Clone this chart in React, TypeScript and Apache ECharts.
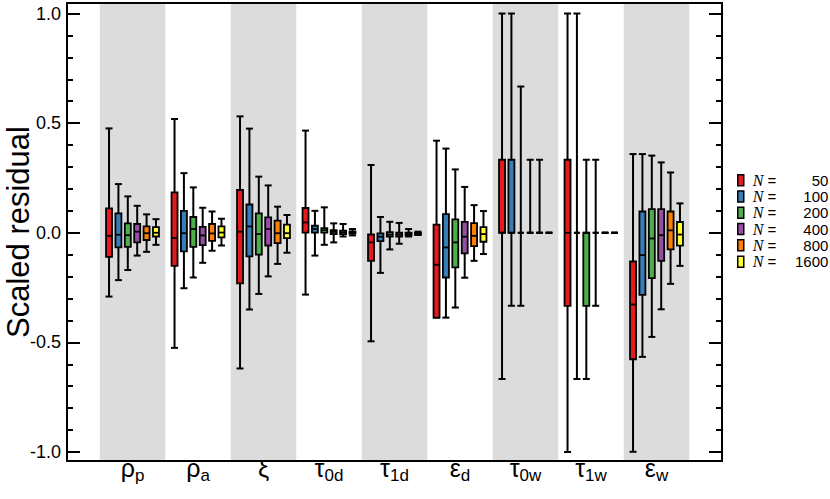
import React, { useEffect, useRef } from "react";
import * as echarts from "echarts";

// Category labels (main glyph + subscript)
const catMain = ["ρ", "ρ", "ξ", "τ", "τ", "ε", "τ", "τ", "ε"];
const catSub = ["p", "a", "", "0d", "1d", "d", "0w", "1w", "w"];

const sampleSizes = [50, 100, 200, 400, 800, 1600];
const colors = ["#E41A1C", "#377EB8", "#4DAF4A", "#984EA3", "#FF7F00", "#FFFF33"];

// Each entry: [low whisker, Q1, median, Q3, high whisker], one per category
const n50 = [
  [-0.291, -0.110, -0.014, 0.111, 0.476],
  [-0.525, -0.151, -0.024, 0.184, 0.519],
  [-0.619, -0.231, 0.005, 0.195, 0.531],
  [-0.282, 0.001, 0.047, 0.113, 0.466],
  [-0.495, -0.128, -0.044, -0.008, 0.309],
  [-0.387, -0.387, -0.146, 0.037, 0.420],
  [-0.667, 0, 0, 0.333, 1.0],
  [-1.0, -0.333, 0, 0.333, 1.0],
  [-0.999, -0.577, -0.327, -0.131, 0.359],
];
const n100 = [
  [-0.216, -0.067, -0.009, 0.088, 0.222],
  [-0.253, -0.085, -0.002, 0.100, 0.272],
  [-0.350, -0.108, 0.029, 0.129, 0.475],
  [-0.104, 0.001, 0.017, 0.032, 0.100],
  [-0.183, -0.038, -0.018, -0.003, 0.072],
  [-0.387, -0.204, -0.067, 0.085, 0.384],
  [-0.333, 0, 0, 0.333, 1.0],
  [-0.667, 0, 0, 0, 1.0],
  [-0.566, -0.283, -0.102, 0.097, 0.359],
];
const n200 = [
  [-0.170, -0.064, -0.011, 0.043, 0.166],
  [-0.204, -0.064, 0.017, 0.072, 0.207],
  [-0.279, -0.100, -0.006, 0.088, 0.256],
  [-0.055, 0.001, 0.012, 0.021, 0.116],
  [-0.076, -0.017, -0.008, 0.003, 0.050],
  [-0.341, -0.158, -0.044, 0.061, 0.289],
  [-0.333, 0, 0, 0, 0.667],
  [-0.667, -0.333, 0, 0, 0.333],
  [-0.475, -0.207, -0.026, 0.108, 0.352],
];
const n400 = [
  [-0.104, -0.044, 0.005, 0.040, 0.123],
  [-0.137, -0.056, -0.012, 0.027, 0.114],
  [-0.199, -0.058, 0.017, 0.070, 0.216],
  [-0.044, -0.006, 0.004, 0.012, 0.043],
  [-0.050, -0.017, -0.008, 0.001, 0.045],
  [-0.205, -0.094, -0.018, 0.050, 0.209],
  [0, 0, 0, 0, 0.333],
  [-0.333, 0, 0, 0, 0.333],
  [-0.349, -0.128, -0.011, 0.108, 0.321],
];
const n800 = [
  [-0.087, -0.033, -0.002, 0.029, 0.084],
  [-0.082, -0.037, -0.003, 0.040, 0.097],
  [-0.142, -0.047, -0.002, 0.055, 0.119],
  [-0.017, -0.006, 0.002, 0.010, 0.040],
  [-0.017, -0.012, -0.006, 0.001, 0.017],
  [-0.128, -0.061, -0.014, 0.044, 0.126],
  [0, 0, 0, 0, 0.333],
  [0, 0, 0, 0, 0],
  [-0.233, -0.076, 0.011, 0.097, 0.275],
];
const n1600 = [
  [-0.055, -0.017, 0.000, 0.026, 0.062],
  [-0.058, -0.021, 0.001, 0.029, 0.064],
  [-0.091, -0.024, -0.002, 0.037, 0.081],
  [-0.012, -0.004, 0.001, 0.006, 0.017],
  [-0.010, -0.008, -0.004, 0.000, 0.005],
  [-0.097, -0.041, -0.006, 0.026, 0.099],
  [0, 0, 0, 0, 0],
  [0, 0, 0, 0, 0],
  [-0.151, -0.059, -0.008, 0.049, 0.134],
];
const allSeries = [n50, n100, n200, n400, n800, n1600];

// Shaded category bands (category positions)
const shadedCats = [1, 3, 5, 7, 9];

// Tick values
const majorTicks = [-1.0, -0.5, 0.0, 0.5, 1.0];
const minorTicks = [
  -1.0, -0.9, -0.8, -0.7, -0.6, -0.5, -0.4, -0.3, -0.2, -0.1, 0.0,
  0.1, 0.2, 0.3, 0.4, 0.5, 0.6, 0.7, 0.8, 0.9, 1.0,
];
const xTicks = [0, 1, 2, 3, 4, 5, 6, 7, 8, 9, 10];

const Y_MIN = -1.041;
const Y_MAX = 1.048;
const BOX_STEP = 0.1433;
const FONT = "'Liberation Sans', Arial, Helvetica, sans-serif";

export default function App() {
  const ref = useRef<HTMLDivElement>(null);

  useEffect(() => {
    if (!ref.current) return;
    const chart = echarts.init(ref.current, undefined, { renderer: "svg" });

    const yBase = {
      type: "value",
      min: Y_MIN,
      max: Y_MAX,
      splitLine: { show: false },
      axisLine: { show: false },
    };

    const boxSeries = allSeries.map((arr, j) => ({
      type: "custom",
      name: "N" + sampleSizes[j],
      z: 3,
      itemStyle: { color: colors[j], borderColor: "#000", borderWidth: 1.5 },
      encode: { x: 0, y: [1, 2, 3, 4, 5] },
      data: arr.map((v, i) => [i + 1 + (j - 2.5) * BOX_STEP, v[0], v[1], v[2], v[3], v[4]]),
      renderItem: (params: any, api: any) => {
        const x = api.value(0);
        const lo = api.coord([x, api.value(1)]);
        const q1 = api.coord([x, api.value(2)]);
        const md = api.coord([x, api.value(3)]);
        const q3 = api.coord([x, api.value(4)]);
        const hi = api.coord([x, api.value(5)]);
        const cx = lo[0];
        const bw = 6;
        const cw = 3.5;
        const ls = { stroke: "#000", lineWidth: 2 };
        return {
          type: "group",
          children: [
            { type: "line", shape: { x1: cx, y1: hi[1], x2: cx, y2: lo[1] }, style: ls },
            { type: "line", shape: { x1: cx - cw, y1: hi[1], x2: cx + cw, y2: hi[1] }, style: ls },
            { type: "line", shape: { x1: cx - cw, y1: lo[1], x2: cx + cw, y2: lo[1] }, style: ls },
            {
              type: "rect",
              shape: { x: cx - bw / 2, y: q3[1], width: bw, height: q1[1] - q3[1] },
              style: { fill: colors[j], stroke: "#000", lineWidth: 1.8 },
            },
            { type: "line", shape: { x1: cx - bw / 2, y1: md[1], x2: cx + bw / 2, y2: md[1] }, style: { stroke: "#000", lineWidth: 1.8 } },
          ],
        };
      },
    }));

    const bandSeries = {
      type: "custom",
      name: "bands",
      z: 1,
      silent: true,
      encode: { x: 0 },
      data: shadedCats.map((c) => [c]),
      renderItem: (params: any, api: any) => {
        const c = api.value(0);
        const a = api.coord([c - 0.5, Y_MAX]);
        const b = api.coord([c + 0.5, Y_MIN]);
        const cs = params.coordSys;
        return {
          type: "rect",
          shape: { x: a[0], y: cs.y + 1, width: b[0] - a[0], height: cs.height - 2 },
          style: { fill: "#DCDCDC" },
        };
      },
    };

    chart.setOption({
      animation: false,
      grid: {
        left: 67,
        right: 108,
        top: 3,
        bottom: 38,
        containLabel: false,
        outerBoundsMode: "none",
        show: true,
        borderColor: "#000",
        borderWidth: 2,
        backgroundColor: "transparent",
        z: 5,
      },
      legend: {
        orient: "vertical",
        left: 737,
        top: 172,
        padding: 0,
        itemWidth: 6,
        itemHeight: 11,
        itemGap: 0,
        selectedMode: false,
        icon: "rect",
        data: sampleSizes.map((n, j) => ({
          name: "N" + n,
          itemStyle: { color: colors[j], borderColor: "#000", borderWidth: 1.5 },
        })),
        formatter: (name: string) => `{n|N} {e|=}{v|${name.slice(1)}}`,
        textStyle: {
          fontSize: 15,
          fontFamily: FONT,
          lineHeight: 16.3,
          color: "#000",
          rich: {
            n: { fontFamily: "'Liberation Serif', 'Times New Roman', serif", fontStyle: "italic", fontSize: 16, lineHeight: 16.3, padding: [0, 0, 0, 4], color: "#000" },
            e: { fontFamily: FONT, fontSize: 15, lineHeight: 16.3, color: "#000" },
            v: { fontFamily: FONT, fontSize: 15, lineHeight: 16.3, width: 52, align: "right", color: "#000" },
          },
        },
      },
      xAxis: {
        type: "value",
        min: 0,
        max: 10,
        interval: 1,
        splitLine: { show: false },
        axisLine: { show: false },
        axisTick: { show: false },
        axisLabel: {
          customValues: xTicks,
          margin: -6,
          formatter: (v: number) => {
            const i = Math.round(v) - 1;
            if (i < 0 || i >= catMain.length) return "";
            return catSub[i] ? `{g|${catMain[i]}}{s|${catSub[i]}}` : `{g|${catMain[i]}}`;
          },
          rich: {
            g: { fontFamily: FONT, fontSize: 25, lineHeight: 25, verticalAlign: "top", color: "#000" },
            s: { fontFamily: FONT, fontSize: 17, lineHeight: 17, padding: [12, 0, 0, 0], verticalAlign: "top", color: "#000" },
          },
        },
      },
      yAxis: [
        {
          ...yBase,
          position: "left",
          name: "Scaled residual",
          nameLocation: "middle",
          nameRotate: 90,
          nameGap: 34,
          nameMoveOverlap: false,
          nameTextStyle: { fontFamily: FONT, fontSize: 31, lineHeight: 30, color: "#000" },
          axisTick: { show: true, inside: true, length: 13, customValues: majorTicks, lineStyle: { color: "#000", width: 2 } },
          axisLabel: { show: true, customValues: majorTicks, margin: 6, fontFamily: FONT, fontSize: 18, color: "#000", formatter: (v: number) => v.toFixed(1) },
        },
        {
          ...yBase,
          position: "left",
          axisTick: { show: true, inside: true, length: 6, customValues: minorTicks, lineStyle: { color: "#000", width: 2 } },
          axisLabel: { show: false },
        },
        {
          ...yBase,
          position: "right",
          axisTick: { show: true, inside: true, length: 13, customValues: majorTicks, lineStyle: { color: "#000", width: 2 } },
          axisLabel: { show: false },
        },
        {
          ...yBase,
          position: "right",
          axisTick: { show: true, inside: true, length: 6, customValues: minorTicks, lineStyle: { color: "#000", width: 2 } },
          axisLabel: { show: false },
        },
      ],
      series: [bandSeries, ...boxSeries],
    });

    return () => chart.dispose();
  }, []);

  return (
    <div
      ref={ref}
      style={{ position: "fixed", left: 0, top: 0, width: 830, height: 499, background: "#fff" }}
    />
  );
}
